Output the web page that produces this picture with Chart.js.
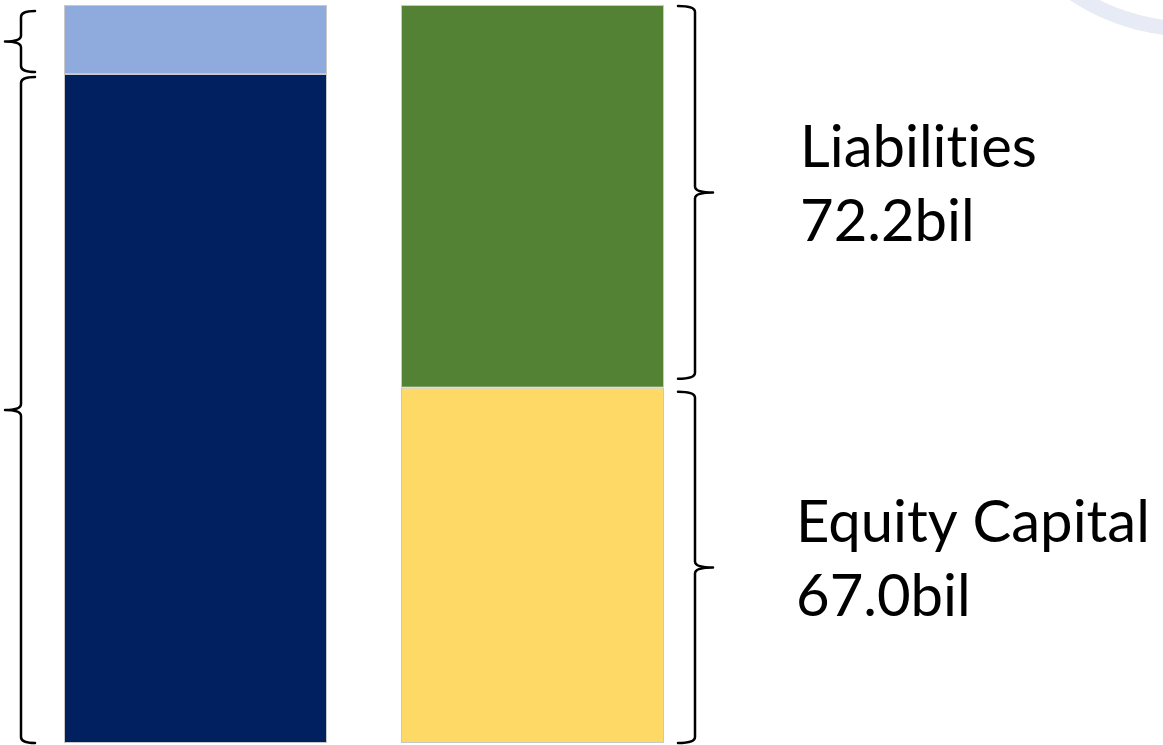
<!DOCTYPE html>
<html>
<head>
<meta charset="utf-8">
<script src="https://cdn.jsdelivr.net/npm/chart.js@4/dist/chart.umd.min.js"></script>
<style>
  html, body { margin: 0; padding: 0; background: #ffffff; }
  #wrap { width: 1163px; height: 745px; position: relative; }
</style>
</head>
<body>
<div id="wrap"><canvas id="c"></canvas></div>
<script>
// Balance sheet: assets on the left column, funding sources on the right
const categories = ['Assets', 'Funding'];
const bottomValues = [126.2, 67.0];   // billions
const topValues = [13.0, 72.2];       // billions
const bottomColors = ['#002060', '#ffd966'];
const topColors = ['#8faadc', '#548235'];
const fundingNames = ['Liabilities', 'Equity Capital'];
const fundingValues = [72.2, 67.0];
const totalValue = 139.2;

function drawBrace(ctx, x, y1, y2, dir, hook, tip) {
  // dir = -1: point to the left, hooks to the right; dir = 1: the reverse
  const mid = (y1 + y2) / 2;
  const r = 6;
  ctx.beginPath();
  ctx.moveTo(x - dir * hook, y1);
  ctx.quadraticCurveTo(x, y1, x, y1 + r);
  ctx.lineTo(x, mid - r);
  ctx.quadraticCurveTo(x, mid, x + dir * tip, mid);
  ctx.moveTo(x + dir * tip, mid);
  ctx.quadraticCurveTo(x, mid, x, mid + r);
  ctx.lineTo(x, y2 - r);
  ctx.quadraticCurveTo(x, y2, x - dir * hook, y2);
  ctx.stroke();
  return mid;
}

const decorations = {
  id: 'decorations',
  beforeDraw(chart) {
    const ctx = chart.ctx;
    ctx.save();
    ctx.strokeStyle = '#e6ebf5';
    ctx.lineWidth = 15;
    ctx.beginPath();
    ctx.arc(1190, -180, 209, 0, Math.PI);
    ctx.stroke();
    ctx.restore();
  },
  afterDatasetsDraw(chart) {
    const ctx = chart.ctx;
    const y = chart.scales.y;
    const m0 = chart.getDatasetMeta(0).data;
    ctx.save();
    ctx.strokeStyle = '#000000';
    ctx.lineWidth = 2.5;
    ctx.lineCap = 'round';

    // left column braces
    const lx = m0[0].x - m0[0].width / 2 - 43;
    const lTop = y.getPixelForValue(bottomValues[0] + topValues[0]);
    const lMid = y.getPixelForValue(bottomValues[0]);
    const lBot = y.getPixelForValue(0);
    drawBrace(ctx, lx, lTop + 6, lMid - 2, -1, 14, 16);
    drawBrace(ctx, lx, lMid + 3, lBot, -1, 14, 16);

    // right column braces + labels
    const rx = m0[1].x + m0[1].width / 2 + 31;
    const rTop = y.getPixelForValue(bottomValues[1] + topValues[1]);
    const rMid = y.getPixelForValue(bottomValues[1]);
    const rBot = y.getPixelForValue(0);
    const t1 = drawBrace(ctx, rx, rTop + 1, rMid - 9, 1, 17, 18);
    const t2 = drawBrace(ctx, rx, rMid + 4, rBot, 1, 17, 18);

    ctx.fillStyle = '#000000';
    ctx.font = '58px Lato, "Open Sans", sans-serif';
    ctx.textRendering = 'optimizeSpeed';
    ctx.textBaseline = 'alphabetic';
    ctx.textAlign = 'left';
    const tips = [t1, t2];
    const tx = [800, 796];
    for (let i = 0; i < 2; i++) {
      ctx.fillText(fundingNames[i], tx[i], tips[i] - 25);
      ctx.fillText(fundingValues[i].toFixed(1) + 'bil', tx[i], tips[i] + 49);
    }
    ctx.restore();
  }
};

new Chart(document.getElementById('c'), {
  type: 'bar',
  data: {
    labels: categories,
    datasets: [
      { data: bottomValues, backgroundColor: bottomColors, borderColor: '#c8c8c8', borderWidth: 1, borderSkipped: false },
      { data: topValues, backgroundColor: topColors, borderColor: '#c8c8c8', borderWidth: 1, borderSkipped: false }
    ]
  },
  options: {
    responsive: true,
    maintainAspectRatio: false,
    animation: false,
    layout: { padding: { left: 27, right: 462, top: 5, bottom: 2 } },
    datasets: { bar: { barPercentage: 1, categoryPercentage: 263 / 337 } },
    plugins: { legend: { display: false }, tooltip: { enabled: false } },
    scales: {
      x: { stacked: true, display: false },
      y: { stacked: true, display: false, min: 0, max: totalValue }
    }
  },
  plugins: [decorations]
});
</script>
</body>
</html>
